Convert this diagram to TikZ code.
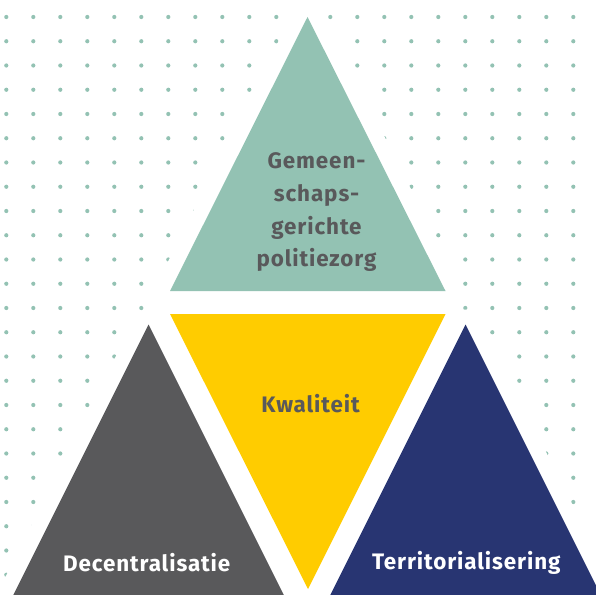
\documentclass[tikz,border=0pt]{standalone}
\usepackage{fontspec}
\setmainfont[LetterSpace=4]{Fira Sans}
\usepackage{tikz}
\usetikzlibrary{positioning}
\definecolor{mint}{HTML}{93C2B3}
\definecolor{sun}{HTML}{FFCC00}
\definecolor{slate}{HTML}{59595B}
\definecolor{navy}{HTML}{283572}
\tikzstyle{halo} = [draw=white, line width=30bp, line join=round]
\tikzstyle{tritext} = [inner sep=0pt, align=center, font=\fontsize{22.5}{32.8}\selectfont\bfseries]

\begin{document}
\begin{tikzpicture}[x=1bp, y=-1bp]
        \useasboundingbox (0,0) rectangle (596,595);
        \clip (0,0) rectangle (596,595);

        % dotted background
        \foreach \i in {0,...,21}
            \foreach \j in {0,...,23}
                \fill[mint] (6.3+27*\i, 17+24.25*\j) circle (2.1bp);

        % corners of the four triangles
        \coordinate (top apex)   at (307.5, 17);
        \coordinate (top left)   at (170, 291);
        \coordinate (top right)  at (445.5, 291);
        \coordinate (mid left)   at (170, 314);
        \coordinate (mid right)  at (445.5, 314);
        \coordinate (mid tip)    at (308, 589);
        \coordinate (left apex)  at (148.5, 324.5);
        \coordinate (left a)     at (11.5, 598.5);
        \coordinate (left b)     at (285.5, 598.5);
        \coordinate (right apex) at (465.5, 324.5);
        \coordinate (right a)    at (328.5, 598.5);
        \coordinate (right b)    at (602.5, 598.5);

        % white edge that hides the dots
        \path[halo] (top apex) -- (top left) -- (top right) -- cycle;
        \path[halo] (mid left) -- (mid right) -- (mid tip) -- cycle;
        \path[halo] (left apex) -- (left a) -- (left b) -- cycle;
        \path[halo] (right apex) -- (right a) -- (right b) -- cycle;

        \fill[mint]  (top apex) -- (top left) -- (top right) -- cycle;
        \fill[sun]   (mid left) -- (mid right) -- (mid tip) -- cycle;
        \fill[slate] (left apex) -- (left a) -- (left b) -- cycle;
        \fill[navy]  (right apex) -- (right a) -- (right b) -- cycle;

        \node[tritext, text=slate, anchor=north] (gebiedsgebonden) at (316.5, 152.8) {Gemeen-\\schaps-\\gerichte\\politiezorg};
        \node[tritext, text=slate, anchor=base]  (kwaliteit)       at (310.5, 412.3) {Kwaliteit};
        \node[tritext, text=white, anchor=base]  (decentralisatie) at (146.7, 571.7) {Decentralisatie};
        \node[tritext, text=white, anchor=base]  (territoriaal)    at (466.3, 569.3) {Territorialisering};
    \end{tikzpicture}
\end{document}
